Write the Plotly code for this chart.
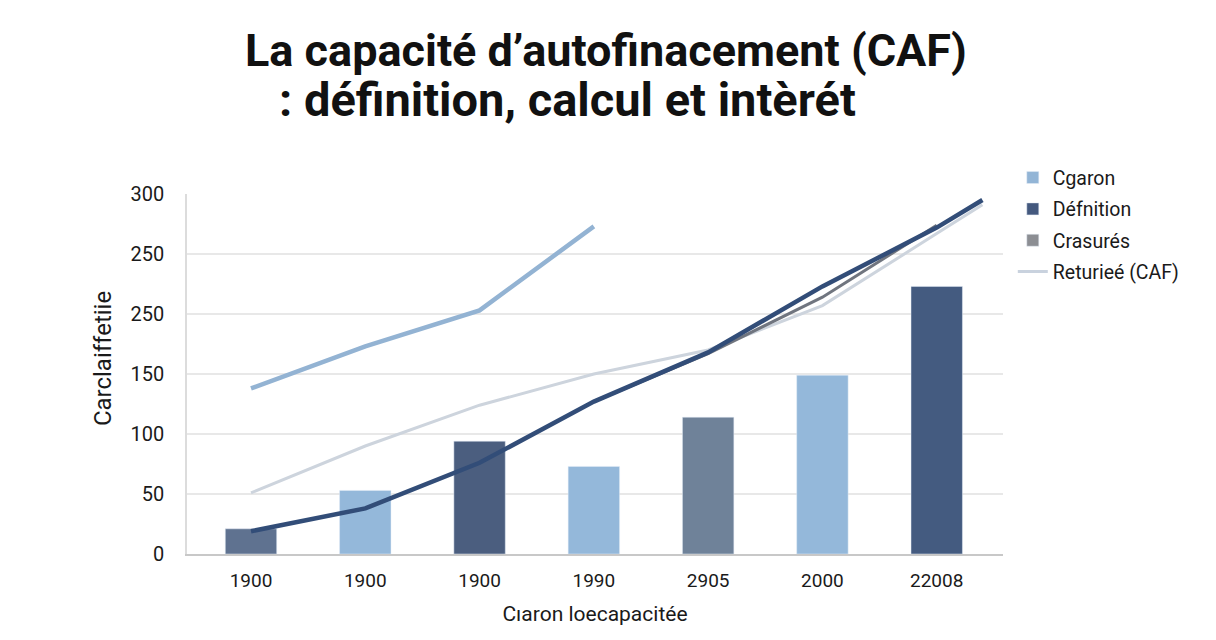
import plotly.graph_objects as go

# data
x_labels = ["1900", "1900", "1900", "1990", "2905", "2000", "22008"]
x_pos = [0, 1, 2, 3, 4, 5, 6]
bar_values = [21, 53, 94, 73, 114, 149, 223]
bar_colors = ["#5f7290", "#94b8da", "#4b5e7f", "#94b8da", "#6f8299", "#94b8da", "#445b80"]

blue_x = [0, 1, 2, 3]
blue_y = [138, 173, 203, 273]

navy_x = [0, 1, 2, 3, 4, 5, 6, 6.4]
navy_y = [19, 38, 76, 127, 168, 223, 272, 295]

grey_x = [3, 4, 5, 6]
grey_y = [127, 167, 214, 274]

pale_x = [0, 1, 2, 3, 4, 5, 6, 6.4]
pale_y = [51, 90, 124, 150, 170, 207, 267, 291]

y_ticks = [0, 50, 100, 150, 200, 250, 300]
y_labels = ["0", "50", "100", "150", "250", "250", "300"]

legend_names = ["Cɡaron", "Défnition", "Crasurés", "Returieé (CAF)"]
legend_colors = ["#93b5d6", "#44597e", "#8c8e93", "#c9d2de"]

FONT = "Roboto, 'Open Sans', sans-serif"

fig = go.Figure()

fig.add_trace(go.Bar(x=x_pos, y=bar_values, marker_color=bar_colors,
                     width=0.45, showlegend=False))

fig.add_trace(go.Scatter(x=pale_x, y=pale_y, mode="lines",
                         line=dict(color="#cdd4dd", width=3), showlegend=False))
fig.add_trace(go.Scatter(x=blue_x, y=blue_y, mode="lines",
                         line=dict(color="#93b3d3", width=4.5), showlegend=False))
fig.add_trace(go.Scatter(x=grey_x, y=grey_y, mode="lines",
                         line=dict(color="#70757f", width=3), showlegend=False))
fig.add_trace(go.Scatter(x=navy_x, y=navy_y, mode="lines",
                         line=dict(color="#324d78", width=4.5), showlegend=False))

# legend entries
for i, (nm, col) in enumerate(zip(legend_names, legend_colors)):
    if i < 3:
        fig.add_trace(go.Bar(x=[None], y=[None], name=nm, marker_color=col,
                             legendgroup=str(i)))
    else:
        fig.add_trace(go.Scatter(x=[None], y=[None], name=nm, mode="lines",
                                 line=dict(color=col, width=3), legendgroup=str(i)))

# page body has an 8px margin, so the figure is pulled up/left by 8px
fig.update_layout(
    width=1216, height=640,
    margin=dict(l=179, r=221, t=186, b=94),
    paper_bgcolor="white", plot_bgcolor="white",
    font=dict(family=FONT, color="#1a1a1a", size=19),
    barmode="overlay",
    showlegend=True,
    legend=dict(x=1.012, y=1.099, xanchor="left", yanchor="top",
                font=dict(size=19.5, color="#1a1a1a"),
                traceorder="grouped", tracegroupgap=3,
                bgcolor="rgba(0,0,0,0)"),
    annotations=[
        dict(text="<b>La capacité d’autofinacement (CAF)</b>", xref="paper", yref="paper",
             x=0.5135, y=1.40, xanchor="center", yanchor="middle", showarrow=False,
             font=dict(size=45, color="#111111", family=FONT)),
        dict(text="<b>: définition, calcul et intèrét</b>", xref="paper", yref="paper",
             x=0.4657, y=1.262, xanchor="center", yanchor="middle", showarrow=False,
             font=dict(size=47, color="#111111", family=FONT)),
        dict(text="Carclaiffetiie", xref="paper", yref="paper", textangle=-90,
             x=-0.103, y=0.544, xanchor="center", yanchor="middle", showarrow=False,
             font=dict(size=24, color="#1a1a1a", family=FONT)),
    ],
)

fig.update_xaxes(
    range=[-0.56, 6.58], tickvals=x_pos, ticktext=x_labels,
    showgrid=False, showline=True, linecolor="#c8c8c8", linewidth=2,
    ticks="", ticklabelstandoff=8, zeroline=False, automargin=False,
    title=dict(text="Cıaron loecapacitée", standoff=16, font=dict(size=21)),
)
fig.update_yaxes(
    range=[0, 300], tickvals=y_ticks, ticktext=y_labels,
    showgrid=True, gridcolor="#e8e8e8", gridwidth=1.5,
    showline=True, linecolor="#dcdcdc", linewidth=1.5,
    ticks="", ticklabelstandoff=17, zeroline=False, automargin=False,
    tickfont=dict(size=20),
)

fig.write_html("out.html")
